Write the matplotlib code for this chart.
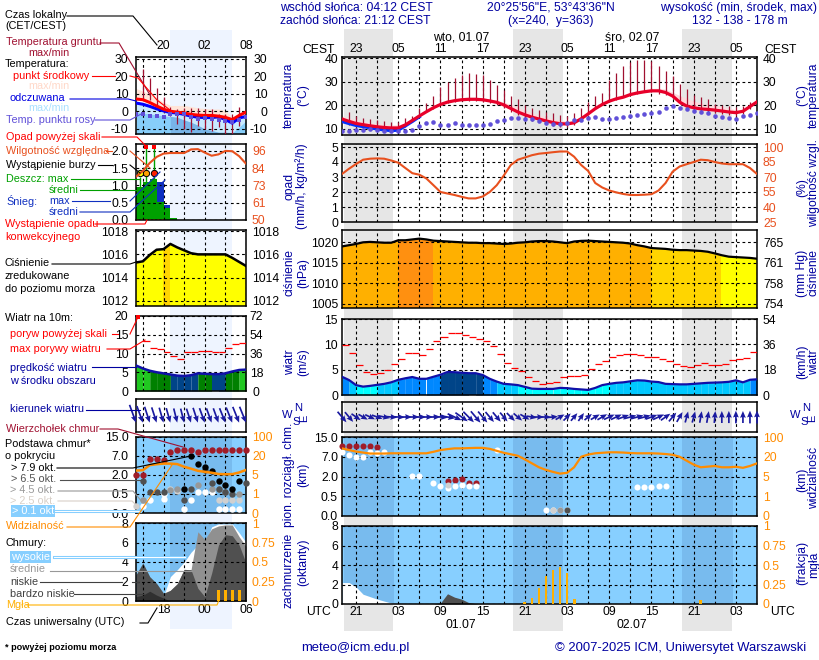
import matplotlib
matplotlib.use("Agg")
import matplotlib.pyplot as plt
import numpy as np

plt.rcParams["font.family"] = ["Liberation Sans", "DejaVu Sans"]
plt.rcParams["font.size"] = 8.7

W, H = 820, 660

# ---- long forecast (right column), hourly from 19 UTC ----
temp = [14.2, 13.2, 12.3, 11.8, 11.3, 10.9, 10.6, 10.4, 10.4, 11.7, 13.6, 15.5, 17.3, 19, 20.4, 21.4, 22, 22.4, 22.6, 22.6,
        22.4, 21.9, 21.3, 20.2, 18.7, 17.2, 16, 15, 14.2, 13.4, 12.7, 12.2, 12.1, 12.6, 14.3, 16.4, 18.6, 20.4, 21.8, 22.8,
        23.5, 24.6, 25.3, 25.8, 26.2, 26.2, 25.5, 24, 21.4, 19.7, 19, 18.5, 18.3, 18, 17.6, 17.2, 16.9, 17.5, 19.5, 21.5]
temp_max = [15.5, 14.6, 13.8, 13.2, 12.6, 12.2, 11.9, 11.7, 11.7, 12.6, 14.3, 16.2, 18, 19.7, 21, 22, 22.7, 23.1, 23.4, 23.4,
            23.2, 22.7, 22.2, 21.4, 20.4, 19.2, 17.8, 16.8, 15.8, 15, 14.2, 13.6, 13.3, 13.8, 15.2, 17.2, 19.3, 21, 22.4, 23.9,
            24.6, 25.7, 26.3, 26.8, 27.2, 27.3, 26.9, 25.6, 24.2, 23, 21.8, 21, 20.4, 20, 19.5, 18.8, 18.1, 18.2, 20, 22]
feel = [13.2, 12.3, 11.5, 11, 10.5, 10, 9.6, 9.3, 9.5, 11.3, 13.2, 15.2]
dew = [8.9, 9.2, 9.6, 9.7, 9.9, 9.6, 9.2, 9.2, 8.9, 8.9, 9.6, 11.3, 12.4, 12.8, 11.5, 11.8, 12.4, 11.8, 11.5, 11.5,
       11.7, 12.1, 13.2, 13.8, 14.5, 14.5, 14.2, 14.1, 13.5, 12.7, 12.1, 12.1, 12.7, 13.8, 13.8, 14.5, 15.2, 14.1, 14.3, 14.5,
       14.9, 15.5, 15.9, 16.2, 16.6, 17.3, 18.7, 19.7, 19.1, 18.3, 17.7, 17.3, 16.6, 15.7, 15.2, 14.6, 14.3, 15.3, 15.9, 16.6]
soil_max = [14.5, 17, 15.4, 14.5, 14, 13.8, 13.5, 13, 12.8, 14.5, 15.5, 18.7, 21.2, 24, 27.8, 30, 31.7, 33, 33.8, 33.4,
            32.8, 30.8, 28.7, 26.4, 23.8, 22.9, 20, 19, 18.2, 17.3, 16.6, 15.9, 15.5, 16.8, 19, 21.5, 24.1, 25.2, 30.8, 34,
            36.8, 38.5, 39.2, 39.2, 38.7, 36.7, 34.8, 32.6, 29.2, 26.8, 24.3, 23.6, 22.9, 20.8, 20, 19.6, 19.4, 19.6, 21.3, 21.8]
soil_min = [12.5, 11.5, 10.8, 10.2, 9.8, 9.4, 9.2, 9.1, 9.2, 11, 13, 15, 17, 18.5, 20, 21, 21.5, 22, 22, 22,
            21.5, 21, 20, 19, 17, 16, 14.5, 13.5, 12.8, 12, 11.3, 11, 10.8, 11.5, 14, 16, 18.5, 20, 21.5, 22.5,
            23.5, 24.5, 25, 25.5, 25.5, 25, 24.5, 23, 20.5, 19, 18, 17.5, 17, 16.8, 16.2, 15.8, 15.5, 16.5, 18.5, 21]
humidity = [73, 78.3, 83, 87.3, 88.3, 88.6, 88.3, 86.5, 84.3, 79, 73.8, 72.3, 68.5, 61.8, 55, 53.5, 52, 50.2, 48.6, 48.6,
            50.5, 55, 61.8, 71.5, 82, 87.3, 89.5, 91.8, 93.3, 94, 94.8, 95.5, 95.5, 90.3, 82, 76, 64, 59.5, 56.5, 54.6,
            53, 52, 52, 52.3, 52.8, 56.5, 64, 75.3, 80.5, 82.8, 85, 87.3, 86.8, 85, 83.5, 82.8, 82.8, 82.8, 79, 73]
pressure = [1019, 1019.3, 1019.6, 1020, 1020.1, 1020, 1019.9, 1019.9, 1020.5, 1020.5, 1020.7, 1020.9, 1020.7, 1020.4, 1020.3, 1020.2, 1020.1, 1020, 1019.9, 1019.9,
            1019.8, 1019.8, 1019.7, 1019.6, 1019.7, 1019.9, 1020, 1020.2, 1020.3, 1020.3, 1020.2, 1020, 1019.8, 1020.2, 1020.35, 1020.4, 1020.3, 1020.2, 1020.1, 1020,
            1019.9, 1019.7, 1019.3, 1019, 1018.6, 1018.5, 1018.4, 1018.2, 1018.1, 1018.1, 1018, 1017.9, 1017.7, 1017.3, 1016.85, 1016.5, 1016.4, 1016.3, 1016.2, 1016]
wind = [3.6, 2.95, 1.95, 1.65, 1.8, 2, 2.2, 2.5, 3, 3.3, 3.55, 3.2, 3.2, 3.6, 4, 4.54, 4.5, 4.4, 4.3, 4.3,
        3.95, 3.2, 2.65, 2.2, 2.1, 1.95, 1.6, 1.25, 1.2, 1.2, 1.2, 1.4, 1.35, 1.2, 1.1, 1, 1.4, 1.95, 2.2, 2.4,
        2.5, 2.7, 2.9, 2.85, 2.65, 2.55, 2.2, 2.15, 2.1, 2.1, 2.2, 2.3, 2.4, 2.45, 2.5, 2.6, 2.9, 2.5, 3, 3.1]
gusts = [9.85, 8.25, 5.9, 4.5, 4.1, 4.3, 4.9, 6.1, 7.1, 8.25, 8.25, 7.9, 9, 10.6, 11.4, 12.2, 12.2, 11.8, 11.4, 11,
         10.6, 9.65, 8, 6.3, 5.3, 4.7, 3.5, 2.8, 2.1, 2.3, 2.5, 3.5, 3.7, 3.7, 3.9, 5.1, 6.1, 6.7, 7.5, 7.9,
         8.1, 8.1, 7.9, 7.5, 7.5, 7.1, 6.7, 6.1, 5.7, 5.5, 5.9, 6.3, 5.9, 5.9, 6.1, 6.9, 7.1, 7.3, 8.5]
wind_angle = [-50, -50, -35, -30, -25, -20, -12, -5, -3, 0, 0, 0, 0, 0, -5, -10, -25, -35, -45, -50,
              -50, -50, -50, -50, -45, -40, -30, -10, 0, 0, 5, 30, 45, 50, 55, 40, 30, 30, 25, 25,
              20, 15, 15, 15, 20, 25, 35, 50, 60, 75, 75, 80, 80, 85, 90, 90, 90, 90, 90, 90]
visibility = [54, 47, 41, 37, 33, 33, 33, 34, 34, 34, 34, 34, 34, 40, 47, 51, 54, 54, 55, 56,
              56, 52, 44, 36, 30, 24, 18, 15, 12, 10, 8.5, 7.2, 7.8, 12, 20, 29, 34, 36, 38, 38,
              37, 35, 34, 34, 34, 33, 31, 28, 20, 17, 14, 12, 12.5, 13, 12, 12, 12.4, 11.6, 13, 15]

cloud_top_h = [0, 1, 2, 3, 4, 5, 15, 16, 17, 18, 19]
cloud_top = [11.3, 11.3, 11.3, 11.3, 11.3, 10.8, 1.66, 1.76, 1.78, 1.52, 1.52]
base01_h = [0, 1, 2, 3, 4, 5, 6, 10, 11, 13, 14, 15, 16, 17, 18, 19, 22, 29, 30, 31, 32, 42, 43, 44, 45, 46]
base01 = [9.1, 7.8, 7, 7, 8.8, 8.5, 8.8, 2.2, 2.2, 1.52, 1.27, 1.13, 1.27, 1.34, 1.3, 1.3, 9.6, 0.15, 0.15, 0.15, 0.15, 1.19, 1.19, 1.19, 1.27, 1.27]
base25_h = [15, 30]
base25 = [1.35, 0.15]
base45_h = [31]
base45 = [0.15]
base65_h = [32]
base65 = [0.15]

high_h = [0, 1, 2, 3, 4, 5, 6, 7, 8, 9]
high_cover = [2.2, 2.2, 1.75, 1.0, 0.75, 0.5, 0.3, 0.1, 0.03, 0]
low_h = [13, 14, 15, 16, 17, 18, 19, 20]
low_cover = [0, 0.1, 1.05, 0.7, 0.5, 0.15, 0.05, 0]
fog_h = [26, 27, 28, 29, 30, 31, 32, 33, 51]
fog = [0.03, 0.08, 0.2, 0.36, 0.44, 0.48, 0.4, 0.07, 0.05]

# ---- short forecast (left column), hourly from 14 UTC ----
s_temp = [7, 6.6, 5, 3, 1.2, 0, -0.5, -1, -1.8, -2.2, -2.4, -2.4, -2.8, -3.5, -4.8, -2.4, -0.5]
s_temp_max = [13, 11.5, 10, 7.5, 5.2, 3.3, 3.3, 3.3, 2.7, 1.9, 1.6, 1.3, 1.3, 0.4, -3.4, -1, 0.4]
s_feel = [4.7, 4, 2.8, 1.4, 0.2, -0.7, -1, -1.8, -2.8, -3.4, -3.6, -3.6, -3.2, -4.7, -6.8, -3.8, -3]
s_feel_min = [-0.6, -1, -1.5, -2, -2.5, -3, -3.5, -5, -6.3, -8, -10.2, -11, -12, -12, -12.2, -9, -5.4]
s_dew = [-1.5, -1.5, -2.5, -2.9, -3, -1.5, -1.5, -1.8, -3, -4.4, -3.8, -4.4, -5, -5.8, -6.3, -4.8, -3]
s_soil_h = [1, 2, 3, 4, 5, 6, 7, 8, 9, 10, 11, 12, 13, 14, 15, 16]
s_soil_max = [24.4, 19, 13.5, 8, 2.3, 1.3, 1.9, 1.9, 1.9, 1.3, 1.3, -1.5, -1.5, -1.5, 2.3, -0.6]
s_soil_min = [6.2, 6.2, 2.3, -1, -2.5, -7.3, -10, -12, -8.3, -10, -11, -9, -13, -13, -8.3, -3.5]
s_rain = [0.96, 1.1, 1.18, 0.53, 0.34, 0.07]
s_snow = [0, 0, 0, 1.09, 0.43, 0]
s_rain_max = [1.25, 2.1, 2.1]
s_humidity = [78.8, 82.7, 88, 92, 94.2, 94.6, 94.6, 94.6, 97, 97.2, 94.9, 92.8, 93.7, 96, 95.8, 92.5, 87.5]
s_pressure = [1015.3, 1015.4, 1015.95, 1016.4, 1016.45, 1016.9, 1016.6, 1016.35, 1016.1, 1016, 1016, 1016, 1016, 1016, 1015.7, 1015.35, 1015]
s_wind = [6.8, 6, 5.4, 5, 4.7, 4.4, 4.1, 4, 4.2, 4.7, 4.6, 4.5, 4.5, 4.7, 5.2, 5.6, 5.7]
s_gusts_h = [1, 2, 3, 4, 5, 6, 7, 8, 9, 10, 11, 12, 13, 14, 15]
s_gusts = [13.4, 11.5, 11.2, 10.4, 9.4, 8.6, 10.3, 10.4, 10.6, 10.7, 10.4, 10.4, 11.5, 12.6, 12.8]
s_wind_angle = [-70, -70, -72, -72, -74, -74, -76, -76, -72, -72, -70, -70, -70, -68, -68, -68, -68]
s_visibility = [8.5, 8.8, 12.8, 13.5, 14, 14, 13.6, 11.5, 10, 8.3, 7.5, 6.8, 5.8, 5.6, 5.7, 7, 9]

s_top_h = [0, 1, 2, 3, 4, 5, 6, 7, 8, 9, 10, 11, 12, 13, 14, 15, 16]
s_top = [2, 2, 6.3, 6.3, 5.9, 8.8, 9.7, 9.7, 9.7, 8.8, 9.7, 9.7, 9.7, 9.7, 9.7, 9.7, 9.7]
s_base79_h = [7, 8, 9, 10, 11, 12, 13, 14, 15]
s_base79 = [0.875, 7, 4.8, 4, 3.1, 1.5, 1.2, 0.875, 1.5]
s_base65_h = [1, 2, 3, 4, 7, 8, 10, 11, 12, 13, 14, 16]
s_base65 = [1.5, 0.65, 0.65, 0.65, 0.33, 0.875, 3.4, 1.4, 0.875, 0.65, 0.5, 1.4]
s_base45_h = [1, 5, 6, 9, 11, 12, 13, 15]
s_base45 = [0.33, 0.85, 0.875, 1.2, 0.875, 0.875, 0.65, 0.5]
s_base25_h = [0, 5, 6, 12, 13, 14, 15]
s_base25 = [0.19, 0.875, 0.72, 0.33, 0.33, 0.33, 0.33]
s_base01_h = [1, 2, 4, 4, 7, 8, 9, 10, 11, 12, 13, 14, 15]
s_base01 = [0.19, 0.33, 0.37, 0.5, 0.1, 0.33, 0.65, 0.65, 0.65, 0.1, 0.1, 0.1, 0.1]

s_high = [0, 0, 0, 0, 0.45, 2.5, 3.2, 4, 5, 5.75, 5.75, 7.6, 7.9, 7.9, 7.9, 7, 6]
s_mid = [0, 0, 0, 0, 0, 1.1, 1.8, 3.2, 3.2, 7.1, 6.3, 7.4, 7.7, 7.8, 7.8, 6.6, 5.6]
s_low = [2.7, 3.9, 2.5, 1.8, 0.8, 1.1, 1.75, 3.25, 3.2, 1.3, 0.45, 2.85, 5.75, 6.8, 6.7, 5.75, 3.9]
s_vlow = [0.45, 0.6, 1, 0.6, 0.3, 0, 0, 0, 0, 0, 0, 0, 0, 0, 0, 0, 0]
s_fog_h = [12, 13, 14, 15]
s_fog = [0.14, 0.14, 0.14, 0.14]

hours = np.arange(60)
s_hours = np.arange(17)

NAVY = "#0000A0"
DARKRED = "#A01030"
RED = "#FF0000"
RH_COLOR = "#E8501E"
ORANGE = "#FF8C00"
FOG = "#FFB000"
SKY = "#87CFFF"
SKY_DARK = "#78BBEE"
DOT_WHITE, DOT_25, DOT_45, DOT_65, DOT_79 = "#FFFFFF", "#D0D0D0", "#989898", "#505050", "#000000"


def pressure_color(v):
    if v >= 1020.45:
        return "#FF9010"
    if v >= 1018.7:
        return "#FFB000"
    if v >= 1016.87:
        return "#FFD500"
    return "#FFFF00"


def wind_color(v):
    if v < 2:
        return "#00FFFF"
    if v < 3:
        return "#00C8FF"
    if v < 4:
        return "#0088FF"
    if v < 4.55:
        return "#004488"
    if v < 5.5:
        return "#008000"
    return "#20C820"


fig = plt.figure(figsize=(W / 100, H / 100), dpi=100)


def pixel_axes(x0, y0, x1, y1, zorder=5):
    return fig.add_axes([x0 / W, 1 - y1 / H, (x1 - x0) / W, (y1 - y0) / H], zorder=zorder)


back = pixel_axes(0, 0, W, H, zorder=0)
front = pixel_axes(0, 0, W, H, zorder=20)
for a in (back, front):
    a.set_xlim(0, W)
    a.set_ylim(H, 0)
    a.axis("off")
front.patch.set_visible(False)

# sun-down bands behind the panels
back.axvspan(170, 232, ymin=1 - 629 / H, ymax=1 - 30 / H, color="#EEF4FF", lw=0)
for x0, x1 in [(344, 393), (513, 563), (682, 732)]:
    back.axvspan(x0, x1, ymin=1 - 631 / H, ymax=1 - 29 / H, color="#E6E6E6", lw=0)


def panel(box, xlim, ylim, yticks, ylabels, left_pad):
    ax = pixel_axes(*box)
    ax.set_facecolor("none")
    ax.set_xlim(*xlim)
    ax.set_ylim(*ylim)
    ax.set_yticks(yticks, ylabels)
    ax.tick_params(axis="y", length=0, pad=left_pad)
    ax.tick_params(axis="x", length=0, labelbottom=False)
    for s in ax.spines.values():
        s.set_linewidth(1.1)
    ax.grid(True, color="black", lw=0.8, ls=(0, (2.5, 2.5)))
    ax.set_axisbelow(False)
    return ax


def right_axis(ax, ylim, ticks, labels, color="black", pad=4.3, ha=None):
    tw = ax.twinx()
    tw.set_ylim(*ylim)
    tw.set_yticks(ticks, labels, color=color)
    tw.tick_params(axis="y", length=0, pad=pad)
    if ha:
        for t in tw.get_yticklabels():
            t.set_ha(ha)
    for s in tw.spines.values():
        s.set_visible(False)
    return tw


def colored_area(ax, t, values, color_of, shift=0):
    # one filled slice per hour, coloured by its class, top follows the curve
    for i in range(len(t) - 1):
        c = color_of(values[i + shift] if i + shift < len(values) else values[i])
        ax.fill_between(t[i:i + 2], 0, values[i:i + 2], color=c, lw=0, zorder=1, antialiased=False)


L_XLIM = (0, 16)
R_XLIM = (0, 59)
L_XT = [1, 4, 7, 10, 13, 16]
R_XT = list(range(2, 60, 3))
L_X0, L_X1 = 136, 246
R_X0, R_X1 = 342, 757
local_labels = {2: "23", 8: "05", 14: "11", 20: "17", 26: "23", 32: "05", 38: "11", 44: "17", 50: "23", 56: "05"}
utc_labels = {2: "21", 8: "03", 14: "09", 20: "15", 26: "21", 32: "03", 38: "09", 44: "15", 50: "21", 56: "03"}

# ---- right column: temperature ----
ax = panel((R_X0, 57, R_X1, 135), R_XLIM, (7.4, 40.6), [10, 20, 30, 40], ["10", "20", "30", "40"], 2.9)
ax.fill_between(hours, temp, temp_max, color="#FFD8DC", lw=0)
ax.vlines(hours, soil_min, soil_max, color=DARKRED, lw=0.9, zorder=3)
ax.plot(hours[:12], feel, color="#0030FF", lw=2.4, zorder=3.5)
ax.plot(hours, temp, color="#E8002A", lw=2.3, zorder=4)
ax.plot(hours, dew, ls="none", marker="o", ms=3.3, mew=0, color="#6050D8", zorder=4)
right_axis(ax, (7.4, 40.6), [10, 20, 30, 40], ["10", "20", "30", "40"])
ax.set_xticks(R_XT, [local_labels.get(h, "") for h in R_XT])
ax.tick_params(axis="x", labeltop=True, labelbottom=False, pad=1.5)

# ---- right column: humidity / precipitation ----
ax = panel((R_X0, 144, R_X1, 222), R_XLIM, (0, 5.2), [0, 1, 2, 3, 4, 5], ["0", "1", "2", "3", "4", "5"], 2.9)
ax.set_xticks(R_XT)
tw = right_axis(ax, (25, 103), [25, 40, 55, 70, 85, 100], ["25", "40", "55", "70", "85", "100"], color=RH_COLOR)
tw.plot(hours, humidity, color=RH_COLOR, lw=1.5, zorder=4)

# ---- right column: pressure ----
ax = panel((R_X0, 230, R_X1, 308), R_XLIM, (1004.0, 1023.0), [1005, 1010, 1015, 1020], ["1005", "1010", "1015", "1020"], 2.9)
ax.set_xticks(R_XT)
colored_area(ax, hours, pressure, pressure_color)
ax.plot(hours, pressure, color="black", lw=1.6, zorder=4)
right_axis(ax, (1004.0 * 0.75006, 1023.0 * 0.75006), [753.8, 757.6, 761.3, 765.06], ["754", "758", "761", "765"])

# ---- right column: wind ----
ax = panel((R_X0, 319, R_X1, 395), R_XLIM, (0, 15), [0, 5, 10, 15], ["0", "5", "10", "15"], 2.9)
ax.set_xticks(R_XT)
colored_area(ax, hours, wind, wind_color)
ax.plot(hours, wind, color="#1010A8", lw=1.6, zorder=4)
ax.hlines(gusts, hours[:59], hours[1:], color=RED, lw=0.9, zorder=4)
right_axis(ax, (0, 54), [0, 18, 36, 54], ["0", "18", "36", "54"])

# ---- right column: wind direction ----
ax = panel((R_X0, 402, R_X1, 432), R_XLIM, (-1, 1), [], [], 0)
ax.set_xticks(R_XT)
ax.grid(False, axis="y")
ang = np.radians(wind_angle)
length = 8 + 1.6 * np.array(wind)
ax.quiver(hours, np.zeros(60), np.cos(ang) * length, np.sin(ang) * length, angles="uv", scale_units="dots", scale=1,
          units="dots", width=1.7, headwidth=3.4, headlength=4, headaxislength=3.6, color="#1A1AA0", pivot="mid", clip_on=False, zorder=4)

# ---- cloud base scale: five evenly spaced levels ----
base_levels = [0, 0.5, 2, 7, 15]
vis_levels = [0, 1, 5, 20, 100]
level_pos = [0, 1, 2, 3, 4]


def base_fwd(v):
    return np.interp(v, base_levels, level_pos)


def base_inv(v):
    return np.interp(v, level_pos, base_levels)


def vis_fwd(v):
    return np.interp(v, vis_levels, level_pos)


def vis_inv(v):
    return np.interp(v, level_pos, vis_levels)


def base_panel(box, xlim, xticks, pad, bands):
    ax = pixel_axes(*box)
    ax.set_facecolor(SKY)
    ax.set_xlim(*xlim)
    ax.set_yscale("function", functions=(base_fwd, base_inv))
    ax.set_ylim(0, 15)
    ax.set_yticks(base_levels, ["0.0", "0.5", "2.0", "7.0", "15.0"])
    ax.minorticks_off()
    ax.tick_params(axis="y", length=0, pad=pad)
    ax.set_xticks(xticks)
    ax.tick_params(axis="x", length=0, labelbottom=False)
    for s in ax.spines.values():
        s.set_linewidth(1.1)
    ax.grid(True, color="black", lw=0.8, ls=(0, (2.5, 2.5)))
    ax.set_axisbelow(False)
    for b0, b1 in bands:
        ax.axvspan(b0, b1, color=SKY_DARK, lw=0, zorder=0.5)
    tw = ax.twinx()
    tw.set_yscale("function", functions=(vis_fwd, vis_inv))
    tw.set_ylim(0, 100)
    tw.set_yticks(vis_levels, ["0", "1", "5", "20", "100"], color=ORANGE)
    tw.minorticks_off()
    tw.tick_params(axis="y", length=0, pad=4.3)
    for s in tw.spines.values():
        s.set_visible(False)
    return ax, tw


def dots(ax, h, v, color, size=4.4):
    ax.plot(h, v, ls="none", marker="o", ms=size, mew=0, color=color, zorder=4, clip_on=False)


R_BANDS = [(0.3, 7.4), (24.3, 31.4), (48.4, 55.6)]
ax, tw = base_panel((R_X0, 437, R_X1, 516), R_XLIM, R_XT, 2.9, R_BANDS)
dots(ax, cloud_top_h, cloud_top, "#A01C28")
dots(ax, base01_h, base01, DOT_WHITE)
dots(ax, base25_h, base25, DOT_25)
dots(ax, base45_h, base45, DOT_45)
dots(ax, base65_h, base65, DOT_65)
tw.plot(hours, visibility, color=ORANGE, lw=1.6, zorder=5)

# ---- right column: cloud cover and fog ----
ax = panel((R_X0, 526, R_X1, 604), R_XLIM, (0, 8), [0, 2, 4, 6, 8], ["0", "2", "4", "6", "8"], 2.9)
ax.set_facecolor(SKY)
for b0, b1 in R_BANDS:
    ax.axvspan(b0, b1, color=SKY_DARK, lw=0, zorder=0.5)
ax.fill_between(high_h, 0, high_cover, color="white", lw=0, zorder=1)
ax.fill_between(low_h, 0, low_cover, color="#505050", lw=0, zorder=1)
ax.set_xticks(R_XT, [utc_labels.get(h, "") for h in R_XT])
ax.tick_params(axis="x", labelbottom=True, pad=1.5)
tw = right_axis(ax, (0, 1), [0, 0.25, 0.5, 0.75, 1], ["0", "0.25", "0.5", "0.75", "1"], color=ORANGE)
tw.bar(fog_h, fog, width=0.4, color=FOG, lw=0, zorder=3)

# ---- left column: temperature ----
ax = panel((L_X0, 57, L_X1, 134), L_XLIM, (-13, 31), [-10, 0, 10, 20, 30], ["-10", "0", "10", "20", "30"], 5.5)
ax.set_xticks(L_XT, ["", "20", "", "02", "", "08"])
ax.tick_params(axis="x", labeltop=True, labelbottom=False, pad=3.5)
ax.fill_between(s_hours, s_temp, s_temp_max, color="#FFE4D8", lw=0, zorder=1)
ax.fill_between(s_hours, s_feel, s_feel_min, color="#C8EAFF", lw=0, zorder=1)
ax.fill_between(s_hours, s_feel_min, -13, color="#87CEFA", lw=0, zorder=1)
ax.fill_between(s_hours[5:15], s_feel_min[5:15], -13, color="#78B4E8", lw=0, zorder=1.1)
ax.vlines(s_soil_h, s_soil_min, s_soil_max, color=DARKRED, lw=0.9, zorder=3)
ax.plot(s_hours, s_feel, color="#0000FF", lw=2.2, zorder=3.5)
ax.plot(s_hours, s_temp, color="#FF0000", lw=2.2, zorder=4)
ax.plot(s_hours, s_dew, ls="none", marker="s", ms=2.4, mew=0, color="#6050D8", zorder=4)
right_axis(ax, (-13, 31), [-10, 0, 10, 20, 30], ["-10", "0", "10", "20", "30"], ha="right", pad=15.5)

# ---- left column: precipitation and humidity ----
ax = panel((L_X0, 144, L_X1, 220), L_XLIM, (0, 2.2), [0, 0.5, 1, 1.5, 2], ["0.0", "0.5", "1.0", "1.5", "2.0"], 5.5)
ax.set_xticks(L_XT)
ax.bar(np.arange(6), s_snow, width=1, align="edge", color="#1030C0", lw=0, zorder=1)
ax.bar(np.arange(6), s_rain, width=1, align="edge", color="#00A000", lw=0, zorder=1.1)
stem_h = np.array([0.55, 1.5, 2.55])
ax.vlines(stem_h, s_rain[:3], s_rain_max, color="#00A000", lw=1, zorder=3)
ax.plot(stem_h[1:], [2.1, 2.1], ls="none", marker="s", ms=3, mew=0, color=RED, zorder=5, clip_on=False)
for h, c in zip(stem_h, ["#FFFF00", "#FFA000", "#FF2000"]):
    ax.plot([h], [1.35], ls="none", marker="o", ms=4.5, mec="black", mew=0.7, color=c, zorder=5)
ax.plot([0, 4], [0.01, 0.01], color=RED, lw=1, ls=(0, (1.5, 1.5)), zorder=5)
tw = right_axis(ax, (50, 50 + 23 * 2.2), [50, 61.5, 73, 84.5, 96], ["50", "61", "73", "84", "96"], color=RH_COLOR)
tw.plot(s_hours, s_humidity, color=RH_COLOR, lw=1.5, zorder=4)

# ---- left column: pressure ----
ax = panel((L_X0, 230, L_X1, 306), L_XLIM, (1011.55, 1018.1), [1012, 1014, 1016, 1018], ["1012", "1014", "1016", "1018"], 5.5)
ax.set_xticks(L_XT)
colored_area(ax, s_hours, s_pressure, pressure_color, shift=1)
ax.plot(s_hours, s_pressure, color="black", lw=1.8, zorder=4)
right_axis(ax, (1011.55, 1018.1), [1012, 1014, 1016, 1018], ["1012", "1014", "1016", "1018"])

# ---- left column: wind ----
ax = panel((L_X0, 316, L_X1, 391), L_XLIM, (0, 20), [0, 5, 10, 15, 20], ["0", "5", "10", "15", "20"], 5.5)
ax.set_xticks(L_XT)
colored_area(ax, s_hours, s_wind, wind_color)
ax.plot(s_hours, s_wind, color="#1010A8", lw=1.8, zorder=4)
ax.hlines(s_gusts, s_gusts_h, np.array(s_gusts_h) + 1, color=RED, lw=0.9, zorder=4)
ax.plot([0.3], [19.8], ls="none", marker="s", ms=2.6, mew=0, color=RED, zorder=5, clip_on=False)
right_axis(ax, (0, 72), [0, 18, 36, 54, 72], ["0", "18", "36", "54", "72"], ha="center", pad=7.5)

# ---- left column: wind direction ----
ax = panel((L_X0, 399, L_X1, 432), L_XLIM, (-1, 1), [], [], 0)
ax.set_xticks(L_XT)
ax.grid(False, axis="y")
ang = np.radians(s_wind_angle)
length = 8 + 1.6 * np.array(s_wind)
ax.quiver(s_hours, np.full(17, -0.43), np.cos(ang) * length, np.sin(ang) * length, angles="uv", scale_units="dots", scale=1,
          units="dots", width=1.7, headwidth=3.4, headlength=4, headaxislength=3.6, color="#1A1AA0", pivot="tip", clip_on=False, zorder=4)

# ---- left column: cloud base ----
ax, tw = base_panel((L_X0, 437, L_X1, 513), L_XLIM, L_XT, 5.5, [(4.95, 13.95)])
dots(ax, s_base01_h, s_base01, DOT_WHITE, 4.6)
dots(ax, s_base25_h, s_base25, DOT_25, 4.6)
dots(ax, s_base45_h, s_base45, DOT_45, 4.6)
dots(ax, s_base65_h, s_base65, DOT_65, 4.6)
dots(ax, s_base79_h, s_base79, DOT_79, 4.6)
dots(ax, s_top_h, s_top, "#A01C28", 4.6)
tw.plot(s_hours, s_visibility, color=ORANGE, lw=1.8, zorder=5)

# ---- left column: cloud cover ----
ax = panel((L_X0, 523, L_X1, 601), L_XLIM, (0, 8), [0, 2, 4, 6, 8], ["0", "2", "4", "6", "8"], 5.5)
ax.set_facecolor(SKY)
ax.axvspan(4.95, 13.95, color=SKY_DARK, lw=0, zorder=0.5)
ax.fill_between(s_hours, 0, s_high, color="white", lw=0, zorder=1)
ax.fill_between(s_hours, 0, s_mid, color="#909090", lw=0, zorder=1.1)
ax.fill_between(s_hours, 0, s_low, color="#505050", lw=0, zorder=1.2)
ax.fill_between(s_hours, 0, s_vlow, color="#303030", lw=0, zorder=1.3)
ax.set_xticks(L_XT, ["", "18", "", "00", "", "06"])
ax.tick_params(axis="x", labelbottom=True, pad=2.5)
tw = right_axis(ax, (0, 1), [0, 0.25, 0.5, 0.75, 1], ["0", "0.25", "0.5", "0.75", "1"], color=ORANGE)
tw.bar(s_fog_h, s_fog, width=0.4, color=FOG, lw=0, zorder=3)

LEG = 7.8


# ---- texts and leader lines, all in pixel space ----
def put(x, y, s, color="black", ha="left", rot=0, size=8.7, **kw):
    front.text(x, y, s, color=color, ha=ha, va="center", rotation=rot, fontsize=size, **kw)


def leg(x, y, s, color="black"):
    put(x, y, s, color, size=LEG)


def lead(pts, color, lw=0.8):
    front.plot([p[0] for p in pts], [p[1] for p in pts], color=color, lw=lw)


# header
put(280, 8, "wschód słońca: 04:12 CEST", NAVY)
put(280, 21, "zachód słońca: 21:12 CEST", NAVY)
put(551, 8, "20°25'56\"E, 53°43'36\"N", NAVY, ha="center")
put(551, 21, "(x=240,  y=363)", NAVY, ha="center")
put(739, 8, "wysokość (min, środek, max)", NAVY, ha="center")
put(740, 21, "132 - 138 - 178 m", NAVY, ha="center")
put(461, 37, "wto, 01.07", ha="center")
put(632, 37, "śro, 02.07", ha="center")
put(302, 50, "CEST")
put(764, 50, "CEST")
put(306, 612, "UTC")
put(770, 612, "UTC")
put(461, 625, "01.07", ha="center")
put(632, 625, "02.07", ha="center")
put(301, 648, "meteo@icm.edu.pl", NAVY, size=9.4)
put(555, 648, "© 2007-2025 ICM, Uniwersytet Warszawski", NAVY, size=9.4)
put(5, 648, "* powyżej poziomu morza", size=6.6, weight="bold")

# rotated axis titles
for x, y, s in [(289, 95, "temperatura"), (303, 95, "(°C)"), (814, 95, "temperatura"), (802, 95, "(°C)"),
                (290, 186, "opad"), (302, 186, "(mm/h, kg/m²/h)"), (814, 183, "wilgotność wzgl."), (802, 188, "(%)"),
                (290, 273, "ciśnienie"), (303, 273, "(hPa)"), (814, 273, "ciśnienie"), (802, 273, "(mm Hg)"),
                (290, 362, "wiatr"), (303, 362, "(m/s)"), (814, 362, "wiatr"), (802, 362, "(km/h)"),
                (289, 475, "pion. rozciągł. chm."), (303, 475, "(km)"), (814, 478, "widzialność"), (802, 480, "(km)"),
                (289, 570, "zachmurzenie"), (303, 562, "(oktanty)"), (814, 565, "mgła"), (802, 563, "(frakcja)")]:
    put(x, y, s, NAVY, ha="center", rot=90)

# compass letters beside the wind direction panels
for x, y, s, r in [(287, 415, "W", 0), (298, 408, "N", 0), (296, 422, "S", 0), (304, 418, "E", 90),
                   (795, 415, "W", 0), (806, 408, "N", 0), (804, 422, "S", 0), (812, 418, "E", 90)]:
    put(x, y, s, NAVY, ha="center", rot=r, size=8)

# left legend
leg(5, 15, "Czas lokalny")
leg(5, 26, "(CET/CEST)")
lead([(67, 16), (133, 16), (157, 45)], "black")
leg(6, 42, "Temperatura gruntu", DARKRED)
leg(28, 52.5, "max/min", DARKRED)
lead([(100, 43), (119, 43), (150, 95)], DARKRED)
leg(5, 64, "Temperatura:")
leg(13, 76, "punkt środkowy", RED)
lead([(92, 76), (115, 76)], RED)
lead([(130, 76), (138, 78), (157, 100), (170, 110)], RED)
leg(28, 86, "max/min", "#FFD8C8")
leg(10, 98, "odczuwana", "#0000E0")
lead([(70, 99), (128, 99), (136, 101)], "#0000E0")
leg(28, 108, "max/min", "#A8E0FF")
leg(6, 120, "Temp. punktu rosy", "#6050D8")
lead([(95, 120), (130, 120), (143, 113)], "#6050D8")
leg(6, 137, "Opad powyżej skali", RED)
lead([(102, 137), (137, 137), (146, 146)], RED)
leg(6, 151, "Wilgotność względna", RH_COLOR)
lead([(106, 151), (112, 151)], RH_COLOR)
lead([(130, 151), (150, 168)], RH_COLOR)
leg(6, 165, "Wystąpienie burzy")
lead([(98, 165), (112, 165)], "black")
lead([(130, 165), (140, 173)], "black")
leg(6, 179, "Deszcz: max", "#00A000")
lead([(71, 179), (139, 179)], "#00A000")
leg(49, 190, "średni", "#00A000")
lead([(80, 190), (143, 190)], "#00A000")
leg(6, 201, "Śnieg:", "#1030C0")
leg(49, 201, "max", "#1030C0")
lead([(72, 201), (110, 201)], "#1030C0")
lead([(130, 201), (160, 172)], "#1030C0")
leg(49, 212, "średni", "#1030C0")
lead([(80, 212), (130, 212), (165, 180)], "#1030C0")
leg(5, 224, "Wystąpienie opadu", RED)
leg(5, 237, "konwekcyjnego", RED)
lead([(95, 224), (145, 224), (147, 220)], RED)
leg(5, 263, "Ciśnienie")
lead([(52, 264), (130, 264), (136, 262)], "black")
leg(5, 276, "zredukowane")
leg(5, 289, "do poziomu morza")
leg(5, 318, "Wiatr na 10m:")
leg(10, 334, "poryw powyżej skali", RED)
lead([(112, 334), (118, 334)], RED)
lead([(130, 334), (138, 317)], RED)
leg(10, 349, "max porywy wiatru", RED)
lead([(107, 349), (130, 349), (145, 340)], RED)
leg(10, 368, "prędkość wiatru", NAVY)
leg(10, 381, "w środku obszaru", NAVY)
lead([(92, 367), (136, 367)], NAVY)
leg(10, 409, "kierunek wiatru", NAVY)
lead([(86, 410), (140, 410)], NAVY)
leg(6, 429, "Wierzchołek chmur", DARKRED)
lead([(100, 429), (118, 429), (183, 447)], DARKRED)
leg(5, 444, "Podstawa chmur*")
leg(5, 456, "o pokryciu")
leg(11, 468, "> 7.9 okt.")
lead([(57, 468), (133, 468), (191, 456)], "black")
leg(11, 479.5, "> 6.5 okt.", "#505050")
lead([(60, 480), (143, 480)], "#505050")
leg(10, 490, "> 4.5 okt.", "#989898")
lead([(58, 491), (133, 491), (143, 503)], "#989898")
leg(10, 501, "> 2.5 okt.", "#D8D0C8")
lead([(58, 501), (132, 501), (138, 507)], "#D8D0C8")
front.fill_between([11, 55], 505, 517, color=SKY, lw=0)
leg(12, 511, "> 0.1 okt.", "white")
lead([(55, 511), (140, 511)], SKY, lw=2.2)
lead([(55, 511), (140, 511)], "white", lw=0.7)
leg(6, 526, "Widzialność", ORANGE)
lead([(67, 527), (130, 527), (172, 465)], ORANGE)
leg(6, 543, "Chmury:")
front.fill_between([10, 51], 551, 563, color=SKY, lw=0)
leg(11, 557, "wysokie", "white")
lead([(54, 557), (185, 557)], SKY, lw=2.2)
lead([(54, 557), (185, 557)], "white", lw=0.7)
leg(10, 569, "średnie", "#989898")
lead([(50, 571), (192, 571)], "#989898")
leg(10, 582, "niskie", "#404040")
lead([(40, 582), (122, 582)], "#404040")
lead([(132, 582), (138, 582)], "#404040")
leg(10, 594, "bardzo niskie", "#404040")
lead([(74, 594), (145, 594)], "#404040")
leg(6, 605, "Mgła", FOG)
lead([(27, 605), (217, 605), (219, 600)], FOG)
leg(6, 622, "Czas uniwersalny (UTC)")
lead([(140, 623), (148, 623), (157, 608)], "black")

fig.savefig("out.png", dpi=100)
